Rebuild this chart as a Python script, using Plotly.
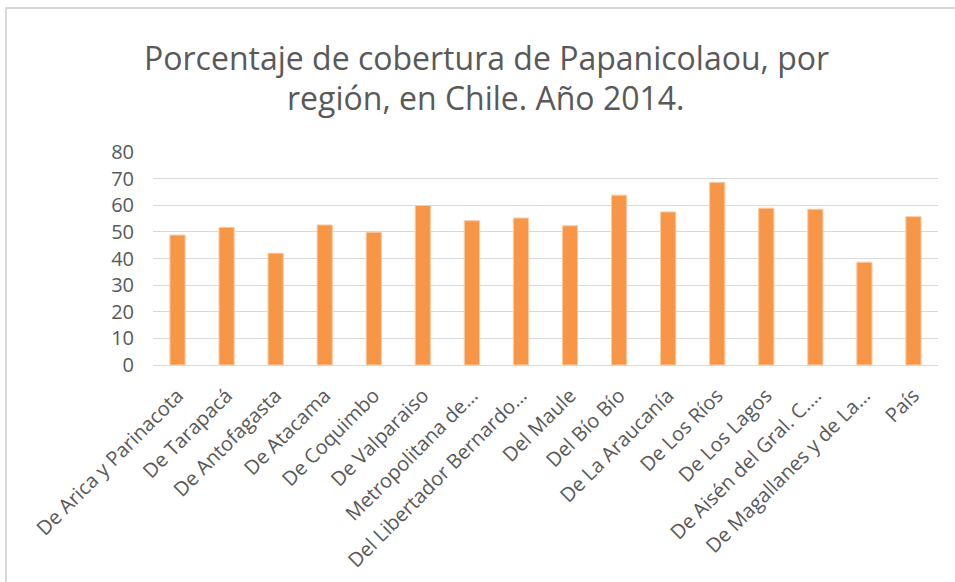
import plotly.graph_objects as go

regions = [
    "De Arica y Parinacota", "De Tarapacá", "De Antofagasta", "De Atacama",
    "De Coquimbo", "De Valparaiso", "Metropolitana de…", "Del Libertador Bernardo…",
    "Del Maule", "Del Bío Bío", "De La Araucanía", "De Los Ríos",
    "De Los Lagos", "De Aisén del Gral. C.…", "De Magallanes y de La…", "País",
]
coverage = [48.8, 51.7, 42.0, 52.6, 49.9, 59.9, 54.2, 55.2,
            52.3, 63.8, 57.5, 68.6, 58.9, 58.5, 38.6, 55.7]
y_ticks = [0, 10, 20, 30, 40, 50, 60, 70, 80]
title_lines = ["Porcentaje de cobertura de Papanicolaou, por",
               "región, en Chile. Año 2014."]

FONT = "Open Sans"
GREY = "#595959"

# plot area in pixels
L, R, T, B = 153, 938, 152, 365
W, H = 955, 582
pw, ph = R - L, B - T

def px_x(x):
    return (x - L) / pw

def px_y(y):
    return (B - y) / ph

fig = go.Figure(go.Bar(
    x=regions, y=coverage,
    marker=dict(color="#F79646", line=dict(color="#FBCBA3", width=1)),
    hoverinfo="skip",
))

annotations = [
    dict(text=title_lines[0], x=px_x(486), y=px_y(57), xref="paper", yref="paper",
         xanchor="center", yanchor="middle", showarrow=False,
         font=dict(family=FONT, size=32, color=GREY)),
    dict(text=title_lines[1], x=px_x(486), y=px_y(98), xref="paper", yref="paper",
         xanchor="center", yanchor="middle", showarrow=False,
         font=dict(family=FONT, size=32, color=GREY)),
]

fig.update_layout(
    width=W, height=H,
    margin=dict(l=L, r=W - R, t=T, b=H - B, autoexpand=False),
    paper_bgcolor="white", plot_bgcolor="white",
    bargap=0.69,
    showlegend=False,
    font=dict(family=FONT, color=GREY),
    annotations=annotations,
    xaxis=dict(tickangle=-45, tickfont=dict(size=20, color=GREY),
               showline=True, linecolor="#D9D9D9", linewidth=1,
               showgrid=False, ticks="", automargin=False, ticklabelstandoff=10),
    yaxis=dict(range=[0, 80], tickvals=y_ticks, tickfont=dict(size=20, color=GREY),
               showgrid=True, gridcolor="#D9D9D9", gridwidth=1,
               zeroline=False, showline=False, ticks="", ticklabelstandoff=18,
               automargin=False),
    shapes=[dict(type="rect", xref="paper", yref="paper",
                 x0=px_x(6), x1=px_x(990),
                 y0=px_y(600), y1=px_y(8),
                 line=dict(color="#D9D9D9", width=2), fillcolor="rgba(0,0,0,0)",
                 layer="below")],
)

fig.write_html("out.html", config={"displayModeBar": False},
               post_script="document.body.style.margin='0';")
